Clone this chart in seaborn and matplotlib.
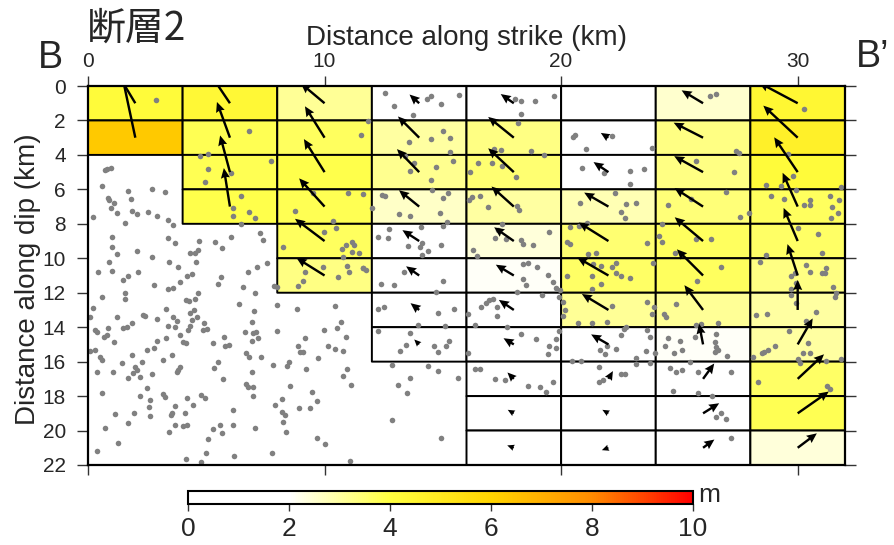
import numpy as np
import pandas as pd
import matplotlib
matplotlib.use("Agg")
import matplotlib.pyplot as plt
import seaborn as sns
from matplotlib.colors import LinearSegmentedColormap

sns.set_style("white")
plt.rcParams['font.family'] = ['Liberation Sans', 'DejaVu Sans']

# ---------------- data ----------------
strike_edges = [0, 4, 8, 12, 16, 20, 24, 28, 32]          # km
dip_edges = [0, 2, 4, 6, 8, 10, 12, 14, 16, 18, 20, 22]   # km
x_ticks = [0, 10, 20, 30]
y_ticks = [0, 2, 4, 6, 8, 10, 12, 14, 16, 18, 20, 22]
cbar_ticks = [0, 2, 4, 6, 8, 10]

# slip (m) per sub-fault, listed column by column from the surface down
slip_by_col = [
    [4.2, 6.3],
    [4.3, 3.8, 3.8, 3.9],
    [3.1, 3.7, 3.9, 3.8, 3.7, 3.3],
    [1.3, 3.0, 3.2, 2.6, 2.0, 1.6, 1.1, 0.7],
    [1.6, 3.3, 3.5, 3.0, 2.4, 2.1, 1.8, 1.2, 0.9, 0.7, 0.7],
    [0.0, 0.9, 1.8, 2.8, 3.5, 3.6, 3.1, 2.0, 0.9, 0.7, 0.7],
    [2.5, 3.3, 3.3, 3.4, 3.7, 3.7, 3.1, 2.1, 1.9, 1.9, 1.4],
    [4.4, 4.7, 4.2, 3.7, 3.6, 3.3, 3.0, 3.0, 3.6, 3.8, 2.4],
]
# slip direction (degrees, counter-clockwise from +strike as seen on the plot)
rake_by_col = [
    [121, 102],
    [124, 110, 105, 99],
    [140, 122, 122, 132, 143, 148],
    [138, 135, 134, 141, 147, 145, 142, 135],
    [145, 141, 137, 138, 145, 149, 146, 149, 135, 150, 160],
    [150, 148, 146, 150, 148, 150, 149, 150, 60, 150, 200],
    [149, 153, 151, 147, 140, 135, 127, 101, 54, 32, 36],
    [152, 137, 124, 114, 113, 108, 90, 60, 43, 35, 37],
]

# aftershock hypocentres projected on the fault plane (km along strike, km along dip)
aftershock_x = [
    0.44, 1.00, 0.90, 2.13, 1.46, 1.70, 2.79, 3.44, 3.82, 3.89, 4.17, 4.38, 4.56, 3.39, 3.61,
    5.51, 5.61, 6.77, 7.15, 7.58, 6.56, 7.06, 7.87, 7.97, 0.58, 1.56, 1.56, 0.20, 0.08, 1.21,
    2.31, 2.41, 2.90, 3.30, 3.39, 3.61, 3.75, 3.68, 4.14, 4.28, 4.52, 4.66, 4.31, 4.48, 4.59,
    4.38, 4.31, 4.90, 4.85, 5.01, 4.24, 3.89, 4.03, 4.14, 3.30, 2.90, 2.79, 2.48, 1.85, 1.63,
    1.49, 0.86, 0.30, 0.37, 0.79, 0.68, 1.10, 6.39, 7.01, 6.92, 6.63, 6.99, 7.10, 7.20, 6.92,
    8.01, 8.82, 10.44, 10.69, 10.51, 9.97, 10.90, 9.18, 10.15, 10.44, 10.79, 8.89, 8.96, 9.07,
    8.00, 5.75, 5.79, 5.97, 5.30, 0.08, 0.30, 0.51, 0.58, 0.37, 1.07, 1.42, 1.85, 1.99, 2.06,
    1.92, 2.27, 1.70, 2.20, 2.69, 3.15, 3.54, 3.75, 3.82, 3.89, 6.70, 6.82, 7.31, 6.92, 5.51,
    5.32, 5.72, 7.83, 8.42, 8.51, 9.21, 9.73, 10.76, 10.96, 11.10, 8.56, 6.70, 6.75, 6.99, 6.96,
    0.58, 2.20, 2.48, 3.15, 3.25, 2.62, 2.59, 3.68, 4.17, 4.42, 4.76, 4.96, 7.90, 8.18, 8.18,
    8.32, 8.25, 8.35, 8.92, 9.38, 9.49, 9.66, 1.14, 1.96, 2.62, 3.54, 3.49, 4.10, 1.70, 0.72,
    3.68, 4.03, 4.17, 3.44, 5.27, 5.58, 5.68, 6.11, 6.14, 7.06, 5.06, 1.28, 0.37, 4.14, 4.76,
    4.99, 6.17, 7.76, 9.69, 10.01, 11.07, 8.89, 9.07, 9.17, 9.92, 10.93, 11.04, 10.58, 11.63,
    2.87, 6.80, 4.73, 5.08, 7.73, 5.06, 6.04, 4.94, 6.45, 6.14, 6.11, 6.80, 7.08, 6.46, 0.58,
    1.70, 2.69, 3.25, 1.80, 0.86, 0.90, 1.11, 0.97, 1.21, 1.85, 2.06, 2.52, 2.93, 3.39, 3.61,
    0.20, 1.56, 0.72, 0.79, 0.97, 10.97, 9.52, 8.77, 10.37, 9.99, 10.48, 7.27, 7.38, 6.03, 5.37,
    5.65, 4.69, 4.66, 4.52, 4.31, 3.68, 3.39, 2.69, 2.08, 1.03, 1.03, 1.21, 8.25, 10.79, 10.89,
    10.72, 11.14, 11.25, 11.18, 11.46,
    12.55, 12.94, 13.75, 14.31, 14.52, 14.92, 15.68, 18.04, 18.32, 18.89, 19.70, 18.32, 18.18,
    11.85, 11.56, 13.58, 14.49, 14.99, 15.30, 13.39, 13.79, 13.63, 14.70, 14.52, 15.41, 15.32,
    17.17, 17.44, 18.72, 19.28, 17.06, 17.51, 16.49, 18.11, 16.14, 14.56, 15.20, 14.99, 11.63,
    12.41, 12.55, 11.99, 13.15, 13.63, 14.90, 16.25, 16.56, 16.11, 16.92, 18.14, 18.23, 12.73,
    12.27, 12.69, 14.07, 15.18, 14.99, 13.54, 14.03, 14.14, 14.38, 14.10, 14.94, 16.28, 16.46,
    17.20, 17.34, 17.52, 17.69, 18.32, 18.39, 18.79, 19.49, 20.58, 20.51, 21.07, 22.17, 20.90,
    21.82, 22.93, 22.90, 22.27, 20.79, 22.76, 23.15, 22.55, 22.72, 20.37, 20.76, 21.11, 20.23,
    20.39, 21.14, 21.47,
    11.61, 11.75, 12.37, 12.94, 13.35, 14.99, 14.73, 12.24, 12.52, 14.80, 15.48, 13.96, 15.08,
    12.27, 13.61, 13.44, 13.21, 14.63, 14.80, 15.13, 15.27, 12.83, 14.38, 14.80, 13.63, 13.11,
    13.49, 15.62, 12.83, 14.92, 16.07, 16.35, 16.63, 16.82, 16.96, 17.13, 17.27, 17.27, 17.73,
    18.30, 18.92, 19.49, 19.45, 19.77, 19.77, 16.07, 16.35, 16.59, 17.20, 17.62, 18.61, 19.10,
    19.38, 19.66, 19.92, 18.15, 18.37, 18.51, 19.21, 19.45, 18.96, 18.39, 18.61, 19.66, 19.80,
    19.94, 19.92, 20.08, 20.15, 20.08, 20.23, 20.72, 21.32, 21.96, 22.17, 21.35, 21.70, 22.13,
    22.34, 22.31, 22.55, 22.93, 21.32, 21.70, 21.32, 22.65, 22.76, 22.55, 21.94, 21.63, 21.85,
    22.31, 23.15, 23.15, 20.44, 20.82, 21.61, 22.52, 22.69, 21.61, 21.77,
    23.89, 26.75, 25.75, 28.39, 30.37, 30.54, 31.01, 31.18, 31.14, 29.87, 29.73, 29.94, 29.73,
    31.49, 31.63, 31.56, 29.73, 29.94, 23.61, 23.92, 23.86, 24.84, 24.34, 24.45, 28.25, 28.70,
    30.76, 30.37, 25.69, 25.93, 26.63, 26.54, 26.49, 26.54, 26.63, 26.49, 27.01, 25.65, 25.04,
    25.13, 24.76, 24.52, 24.38, 23.61, 23.75, 23.58, 23.96, 23.77, 25.46, 29.63, 30.44, 29.03,
    28.75, 28.58, 28.51, 28.11, 30.23, 30.51, 30.01, 30.11, 31.21, 31.85, 24.62, 24.84, 25.13,
    25.79, 27.20, 28.32, 24.73, 25.79, 26.39, 31.24, 31.38, 26.75, 26.54, 26.96, 27.20,
    26.31, 26.54, 30.25, 23.86, 27.41, 27.52, 29.59, 25.69, 27.31, 23.49, 28.65, 29.31, 29.80,
    29.92, 31.82, 28.89, 29.41, 30.27, 30.54, 30.54, 31.38, 31.75, 31.46, 31.70, 31.42, 26.99,
    25.51, 24.52, 27.58, 27.93, 24.28, 24.14, 24.28, 23.63, 25.69, 26.32, 30.00, 30.85, 31.04,
    28.68, 24.80,
]
aftershock_y = [
    10.78, 10.72, 10.20, 10.78, 11.26, 11.03, 11.55, 10.20, 10.52, 11.36, 11.03, 10.91, 10.20, 11.80, 11.74,
    11.49, 11.07, 10.78, 10.49, 10.25, 11.68, 12.03, 11.61, 11.68, 12.23, 12.03, 12.38, 12.90, 13.39, 13.42,
    13.29, 13.35, 13.54, 12.96, 13.93, 13.42, 13.64, 13.97, 12.45, 12.46, 12.38, 12.00, 13.15, 13.00, 13.39,
    13.58, 13.93, 13.77, 14.16, 14.10, 14.16, 14.45, 14.84, 14.89, 14.64, 14.78, 15.18, 15.32, 13.77, 13.97,
    14.06, 14.06, 14.16, 14.26, 14.45, 14.55, 14.84, 12.67, 13.04, 13.68, 14.26, 14.35, 14.26, 14.64, 14.80,
    12.71, 12.94, 12.77, 13.71, 14.02, 14.16, 14.55, 14.60, 15.09, 15.28, 15.38, 15.09, 15.42, 15.42,
    14.22, 14.58, 15.09, 15.03, 14.89, 15.36, 15.32, 15.71, 15.90, 16.58, 16.58, 16.09, 15.61, 16.29, 16.48,
    16.67, 16.00, 16.96, 16.87, 16.71, 15.90, 15.61, 16.58, 16.48, 16.32, 15.47, 15.71, 15.71, 16.58, 16.05,
    16.38, 17.02, 16.20, 16.25, 16.00, 16.44, 15.80, 16.83, 16.44, 17.35, 17.41, 17.29, 17.45, 17.45, 17.99,
    17.80, 17.99, 17.54, 17.87, 18.03, 18.22, 18.61, 18.55, 18.10, 18.49, 17.93, 18.13, 18.51, 18.18, 18.90,
    19.09, 19.48, 20.06, 18.67, 18.67, 17.74, 18.26, 19.05, 18.96, 19.13, 18.96, 19.09, 18.96, 19.54, 19.88,
    19.65, 19.71, 19.69, 20.10, 19.90, 19.69, 20.16, 18.80, 19.69, 19.88, 20.48, 20.74, 21.18, 21.68, 21.84,
    21.33, 21.45, 21.30, 20.45, 20.77, 21.76, 11.61, 11.30, 10.78, 10.49, 10.45, 10.78, 11.10, 10.58,
    0.81, 2.59, 4.06, 3.97, 4.33, 4.84, 5.07, 5.59, 6.38, 7.06, 7.54, 7.29, 7.64, 8.01, 5.80,
    6.07, 5.96, 6.13, 6.56, 6.52, 6.62, 6.77, 7.10, 7.39, 7.23, 7.45, 7.33, 7.54, 7.78, 8.07,
    7.62, 7.97, 4.87, 4.84, 4.78, 6.23, 6.23, 7.23, 7.83, 8.49, 8.26, 8.55, 8.94, 8.74, 9.03,
    9.42, 8.97, 9.52, 9.71, 9.71, 9.13, 8.84, 9.90, 9.56, 8.78, 9.32, 9.75, 9.32, 9.90, 9.23,
    9.46, 9.03, 9.23, 9.61, 9.67,
    0.43, 1.16, 1.68, 0.77, 0.58, 1.04, 0.52, 0.77, 0.85, 0.85, 0.58, 1.62, 2.13,
    2.01, 2.84, 3.23, 3.08, 2.59, 3.04, 4.06, 4.45, 4.91, 4.72, 5.45, 4.33, 3.81,
    3.68, 3.71, 3.75, 4.00, 4.45, 4.64, 4.45, 5.26, 5.01, 6.03, 6.19, 6.52, 6.27,
    6.32, 6.38, 7.10, 7.45, 7.52, 7.39, 6.46, 6.38, 6.62, 7.00, 6.96, 7.20, 8.32,
    8.78, 8.84, 8.16, 7.87, 8.12, 9.28, 9.32, 9.09, 9.57, 9.81, 9.23, 9.52, 9.86,
    8.84, 8.36, 8.01, 8.90, 8.94, 9.19, 9.23, 8.45, 2.84, 2.98, 3.66, 2.90, 4.78,
    5.07, 4.93, 5.69, 6.23, 6.81, 6.87, 6.77, 7.29, 7.68, 8.16, 8.10, 7.93, 9.03,
    9.17, 9.75, 9.71,
    10.58, 10.68, 11.49, 11.55, 10.77, 11.30, 11.97, 12.94, 12.84, 13.15, 12.94, 13.87, 13.91,
    14.20, 14.35, 15.03, 15.38, 15.12, 15.45, 15.09, 14.80, 16.19, 16.25, 16.54, 16.96, 17.35,
    17.83, 16.96, 19.40, 20.41, 13.23, 13.87, 12.80, 12.57, 12.42, 12.38, 12.80, 13.35, 13.97,
    14.39, 14.68, 15.09, 15.55, 14.68, 15.22, 15.51, 16.44, 16.44, 17.00, 17.06, 17.41, 17.49,
    17.74, 17.16, 14.20, 11.93, 11.22, 11.55, 12.13, 10.97, 10.52, 10.33, 10.29, 11.35, 11.74,
    11.87, 12.26, 12.51, 13.00, 13.35, 11.00, 13.77, 13.77, 13.71, 12.77, 10.33, 10.44, 10.48,
    10.25, 10.87, 11.02, 11.16, 11.02, 11.49, 11.80, 14.12, 13.97, 14.45, 15.09, 15.32, 15.57,
    15.28, 15.80, 16.13, 15.99, 15.94, 16.32, 16.71, 16.71, 17.16, 17.06,
    10.25, 10.48, 11.30, 10.19, 10.39, 10.77, 10.87, 10.58, 10.83, 10.83, 11.02, 11.41, 11.80,
    11.68, 12.03, 12.22, 12.13, 12.57, 12.51, 12.80, 13.23, 12.67, 13.23, 13.42, 13.29, 13.23,
    13.09, 13.67, 13.87, 13.81, 13.73, 14.39, 14.84, 15.16, 15.32, 15.42, 15.67, 14.58, 14.80,
    15.32, 15.47, 14.64, 15.09, 14.16, 14.55, 15.36, 15.47, 16.06, 16.00, 14.20, 14.89, 15.12,
    15.32, 15.42, 15.47, 15.71, 15.47, 15.51, 15.86, 16.09, 15.99, 15.86, 16.38, 16.58, 16.48,
    16.58, 16.58, 17.16, 17.68, 17.83, 17.99, 17.41, 17.60, 18.99, 19.22, 19.34, 20.44,
    0.58, 0.48, 1.35, 3.62, 3.77, 3.87, 3.95, 4.35, 4.97, 4.82, 5.74, 5.80, 5.22,
    6.03, 5.88, 6.38, 6.56, 6.91, 6.62, 6.91, 6.38, 6.62, 7.04, 7.39, 7.64, 6.17,
    6.56, 6.91, 7.58, 7.39, 8.01, 8.68, 9.07, 9.13, 8.90, 8.90, 8.26, 8.59, 9.71,
    9.81, 9.71,
]

# ---------------- tables built from the data ----------------
cells = []
for c, (slips, rakes) in enumerate(zip(slip_by_col, rake_by_col)):
    for r, (s, rk) in enumerate(zip(slips, rakes)):
        cells.append(dict(col=c, row=r, slip=s, rake=rk,
                          xc=(strike_edges[c] + strike_edges[c + 1]) / 2,
                          yc=(dip_edges[r] + dip_edges[r + 1]) / 2))
cells = pd.DataFrame(cells)
grid = cells.pivot(index="row", columns="col", values="slip").reindex(
    index=range(len(dip_edges) - 1), columns=range(len(strike_edges) - 1))
slip_grid = np.ma.masked_invalid(grid.to_numpy(dtype=float))
quakes = pd.DataFrame({"x": aftershock_x, "y": aftershock_y})

cmap = LinearSegmentedColormap.from_list(
    "slip", [(0.0, "#ffffff"), (0.2, "#ffffff"), (0.4, "#ffff40"),
             (0.6, "#ffd400"), (0.8, "#ff8c00"), (1.0, "#ff0000")])

# ---------------- figure ----------------
fig = plt.figure(figsize=(8.94, 5.45), dpi=100)
ax = fig.add_axes([88 / 894, 1 - 465 / 545, 757 / 894, 379 / 545])

mesh = ax.pcolor(strike_edges, dip_edges, slip_grid, cmap=cmap, vmin=0, vmax=10,
                 edgecolors="black", linewidth=1.4, zorder=1)

sns.scatterplot(data=quakes, x="x", y="y", ax=ax, color="#808080", s=16,
                linewidth=0, zorder=2, legend=False)

arr = cells[cells.slip > 0]
u = arr.slip * np.cos(np.deg2rad(arr.rake))
v = arr.slip * np.sin(np.deg2rad(arr.rake))
ax.quiver(arr.xc, arr.yc, u, v, angles="uv", units="dots", scale_units="dots",
          scale=0.1, width=2.4, headwidth=3.8, headlength=4.2, headaxislength=3.8,
          color="black", zorder=3)

ax.set_xlim(0, 32)
ax.set_ylim(22, 0)
ax.set_xticks(x_ticks)
ax.set_yticks(y_ticks)
ax.tick_params(axis="x", top=True, bottom=True, labeltop=True, labelbottom=False,
               direction="out", length=7, width=1, pad=4, labelsize=15, color="#333333")
ax.tick_params(axis="y", left=True, right=True, labelleft=True, labelright=False,
               direction="out", length=8, width=1, pad=8, labelsize=15, color="#333333")
ax.xaxis.set_label_position("top")
ax.set_xlabel("Distance along strike (km)", fontsize=20, labelpad=5)
ax.set_ylabel("Distance along dip (km)", fontsize=20)
ax.yaxis.set_label_coords(-0.062, 0.49)
for sp in ax.spines.values():
    sp.set_visible(True)
    sp.set_color("black")
    sp.set_linewidth(1.6)

# colour bar
cax = fig.add_axes([188 / 894, 1 - 504 / 545, 505 / 894, 13 / 545])
cb = fig.colorbar(mesh, cax=cax, orientation="horizontal", ticks=cbar_ticks)
cb.outline.set_linewidth(1.5)
cb.outline.set_edgecolor("black")
cax.tick_params(axis="x", direction="out", length=5, width=1, labelsize=19, pad=4,
                color="#333333")
fig.text(698 / 894, 1 - 495 / 545, "m", fontsize=19, ha="left", va="center")

# annotations
fig.text(87 / 894, 1 - 29 / 545, "断層2", fontsize=28, ha="left", va="center",
         family=["Noto Sans CJK JP", "DejaVu Sans"])
fig.text(50 / 894, 1 - 58 / 545, "B", fontsize=27, ha="center", va="center")
fig.text(856 / 894, 1 - 57 / 545, "B’", fontsize=27, ha="left", va="center")

fig.savefig("out.png", dpi=100)
